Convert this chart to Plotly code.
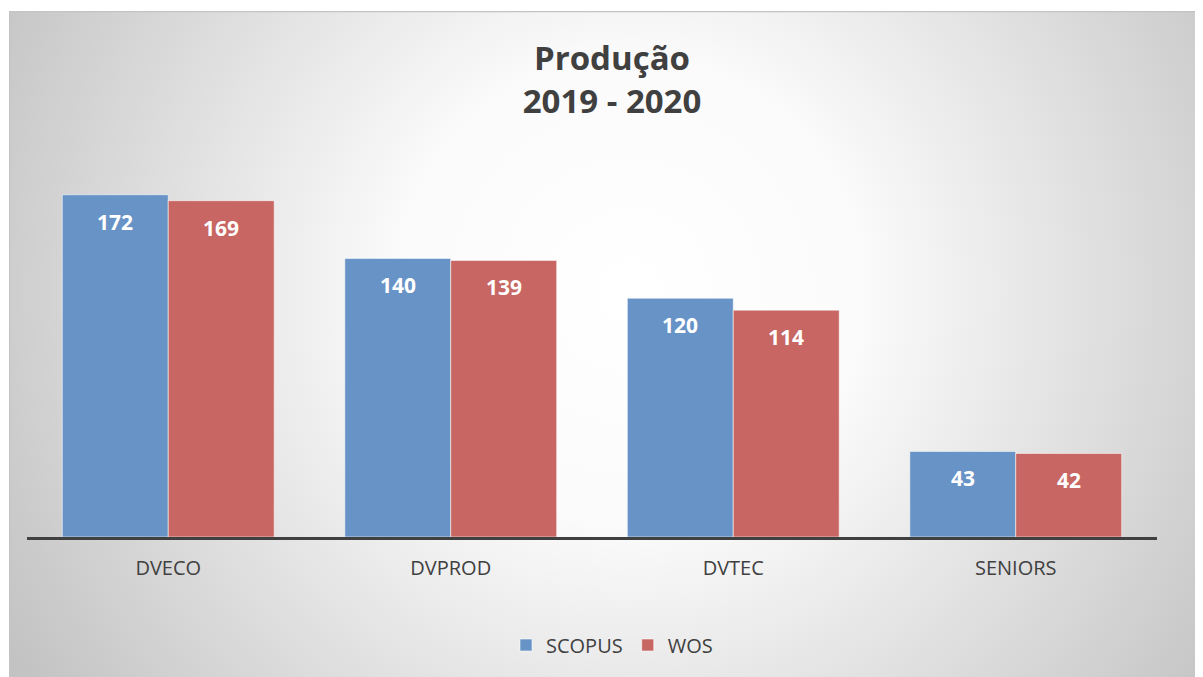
import base64

import plotly.graph_objects as go

# -----------------------
# Data
# -----------------------
categories = ["DVECO", "DVPROD", "DVTEC", "SENIORS"]
scopus = [172, 140, 120, 43]
wos = [169, 139, 114, 42]

BLUE = "#6893c6"
RED = "#c76662"
TEXT = "#404040"
FONT = "Open Sans"

# the page body adds an 8px margin, so the figure is 8px smaller
W, H = 1195, 669
L, R, T, B = 19, 46, 131, 140
pw, ph = W - L - R, H - T - B

# radial gradient card behind the chart (Excel-like chart area)
cx0, cy0 = 1, 3
cw, ch = W - cx0, H - cy0
svg = (
    f"<svg xmlns='http://www.w3.org/2000/svg' width='{cw}' height='{ch}' "
    f"viewBox='0 0 {cw} {ch}' preserveAspectRatio='none'>"
    "<defs><radialGradient id='g' gradientUnits='userSpaceOnUse' "
    f"cx='{cw * 0.52:.0f}' cy='{ch * 0.42:.0f}' r='{cw * 0.6:.0f}'>"
    "<stop offset='0' stop-color='#ffffff'/>"
    "<stop offset='0.32' stop-color='#fbfbfb'/>"
    "<stop offset='1' stop-color='#c3c3c3'/>"
    "</radialGradient></defs>"
    f"<rect x='0.5' y='0.5' width='{cw - 1}' height='{ch + 4}' fill='url(#g)' "
    "stroke='#c4c4c4' stroke-width='1.5'/></svg>"
)
bg_src = "data:image/svg+xml;base64," + base64.b64encode(svg.encode()).decode()

fig = go.Figure()
fig.add_trace(go.Bar(
    x=categories, y=scopus, name="SCOPUS",
    marker=dict(color=BLUE, line=dict(color="rgba(255,255,255,0.55)", width=1)),
))
fig.add_trace(go.Bar(
    x=categories, y=wos, name="WOS",
    marker=dict(color=RED, line=dict(color="rgba(255,255,255,0.55)", width=1)),
))

# data labels inside the top of each bar
bargap = 0.25
half = pw / len(categories) * (1 - bargap) / 4
for vals, sign in ((scopus, -1), (wos, 1)):
    for cat, v in zip(categories, vals):
        fig.add_annotation(
            x=cat, y=v, text=f"<b>{v}</b>", showarrow=False,
            xshift=sign * half, yshift=-27, yanchor="middle",
            font=dict(family=FONT, size=21, color="white"),
        )

fig.add_layout_image(
    source=bg_src, xref="paper", yref="paper",
    x=(cx0 - L) / pw, y=(H - B - cy0) / ph,
    sizex=cw / pw, sizey=ch / ph,
    xanchor="left", yanchor="top", sizing="stretch", layer="below",
)

fig.update_layout(
    width=W, height=H,
    margin=dict(l=L, r=R, t=T, b=B),
    paper_bgcolor="white",
    plot_bgcolor="rgba(0,0,0,0)",
    barmode="group",
    bargap=bargap,
    bargroupgap=0,
    title=dict(
        text="<b>Produção<br>2019 - 2020</b>",
        x=604 / W, xanchor="center",
        y=1 - 62 / H, yanchor="middle",
        font=dict(family=FONT, size=33, color=TEXT),
    ),
    legend=dict(
        orientation="h", x=(604 - L) / pw, xanchor="center",
        y=(H - B - 637) / ph, yanchor="middle",
        font=dict(family=FONT, size=20, color=TEXT),
        bgcolor="rgba(0,0,0,0)",
    ),
    showlegend=True,
)
fig.update_xaxes(
    showline=True, linecolor=TEXT, linewidth=3,
    ticks="outside", ticklen=11, tickcolor="rgba(0,0,0,0)",
    tickfont=dict(family=FONT, size=20, color=TEXT),
    showgrid=False,
)
fig.update_yaxes(range=[0, 200], visible=False, showgrid=False)

fig.write_html("out.html")
